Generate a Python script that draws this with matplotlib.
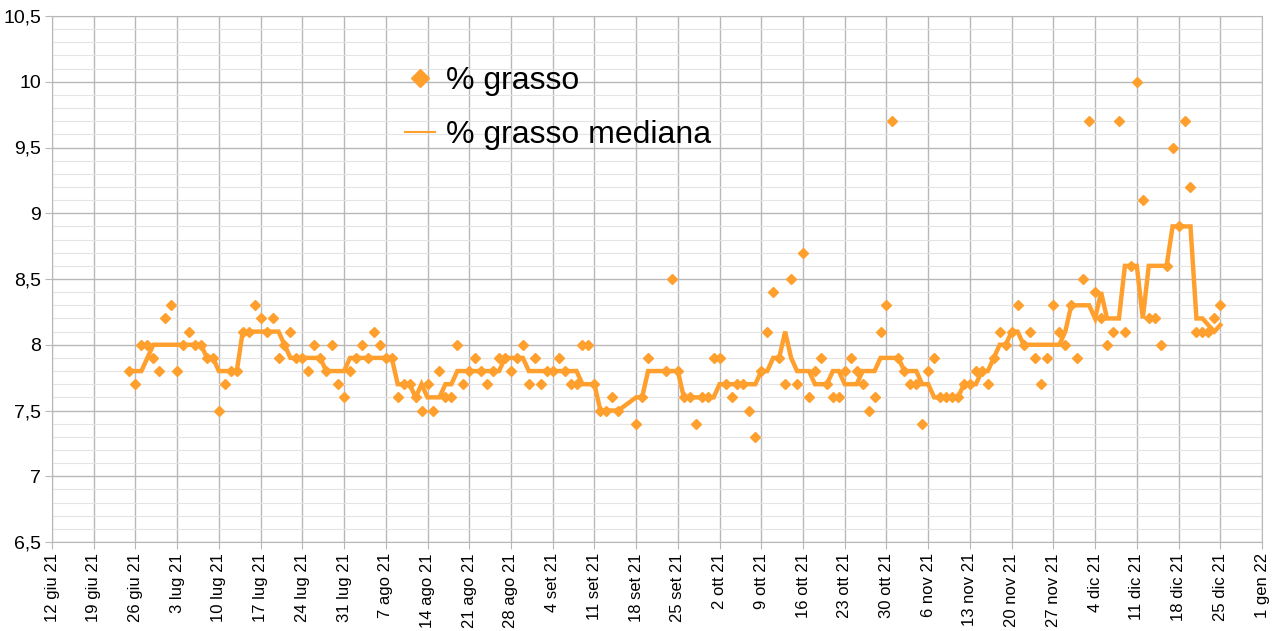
import matplotlib
matplotlib.use("Agg")
import matplotlib.pyplot as plt
from matplotlib.lines import Line2D
import numpy as np
import pandas as pd

# % grasso, one value per day from 25 giu 2021 to 25 dic 2021 (None = no measurement)
giugno = [7.8, 7.7, 8.0, 8.0, 7.9, 7.8]  # 25-30
luglio = [8.2, 8.3, 7.8, 8.0, 8.1, 8.0, 8.0, 7.9, 7.9, 7.5, 7.7, 7.8, 7.8, 8.1, 8.1, 8.3,
          8.2, 8.1, 8.2, 7.9, 8.0, 8.1, 7.9, 7.9, 7.8, 8.0, 7.9, 7.8, 8.0, 7.7, 7.6]
agosto = [7.8, 7.9, 8.0, 7.9, 8.1, 8.0, 7.9, 7.9, 7.6, 7.7, 7.7, 7.6, 7.5, 7.7, 7.5, 7.8,
          7.6, 7.6, 8.0, 7.7, 7.8, 7.9, 7.8, 7.7, 7.8, 7.9, 7.9, 7.8, 7.9, 8.0, 7.7]
settembre = [7.9, 7.7, 7.8, 7.8, 7.9, 7.8, 7.7, 7.7, 8.0, 8.0, 7.7, 7.5, 7.5, 7.6, 7.5, None,
             None, 7.4, 7.6, 7.9, None, None, 7.8, 8.5, 7.8, 7.6, 7.6, 7.4, 7.6, 7.6]
ottobre = [7.9, 7.9, 7.7, 7.6, 7.7, 7.7, 7.5, 7.3, 7.8, 8.1, 8.4, 7.9, 7.7, 8.5, 7.7, 8.7,
           7.6, 7.8, 7.9, 7.7, 7.6, 7.6, 7.8, 7.9, 7.8, 7.7, 7.5, 7.6, 8.1, 8.3, 9.7]
novembre = [7.9, 7.8, 7.7, 7.7, 7.4, 7.8, 7.9, 7.6, 7.6, 7.6, 7.6, 7.7, 7.7, 7.8, 7.8, 7.7,
            7.9, 8.1, 8.0, 8.1, 8.3, 8.0, 8.1, 7.9, 7.7, 7.9, 8.3, 8.1, 8.0, 8.3]
dicembre = [7.9, 8.5, 9.7, 8.4, 8.2, 8.0, 8.1, 9.7, 8.1, 8.6, 10.0, 9.1, 8.2, 8.2, 8.0, 8.6,
            9.5, 8.9, 9.7, 9.2, 8.1, 8.1, 8.1, 8.2, 8.3]

# % grasso mediana, same days
med_giugno = [7.8, 7.8, 7.8, 7.9, 8.0, 8.0]
med_luglio = [8.0] * 7 + [7.9] * 2 + [7.8] * 4 + [8.1] * 7 + [8.0] + [7.9] * 6 + [7.8] * 4
med_agosto = [7.9] * 8 + [7.7] * 3 + [7.6, 7.7] + [7.6] * 3 + [7.7] * 2 + [7.8] * 8 + [7.9] * 4 + [7.8]
med_settembre = ([7.8] * 8 + [7.7] * 3 + [7.5] * 4 + [None, None, 7.6, 7.6, 7.8, None, None]
                 + [7.8] * 3 + [7.6] * 5)
med_ottobre = ([7.6] + [7.7] * 7 + [7.8, 7.8, 7.9, 7.9, 8.1, 7.9] + [7.8] * 3 + [7.7] * 3
               + [7.8] * 2 + [7.7] * 3 + [7.8] * 3 + [7.9] * 3)
med_novembre = ([7.9] + [7.8] * 3 + [7.7] * 2 + [7.6] * 5 + [7.7] * 3 + [7.8] * 2 + [7.9]
                + [8.0] * 2 + [8.1] * 2 + [8.0] * 7 + [8.1, 8.3])
med_dicembre = ([8.3] * 3 + [8.2, 8.4] + [8.2] * 3 + [8.6] * 3 + [8.2] + [8.6] * 4 + [8.9] * 4
                + [8.2, 8.2, 8.15, 8.1, 8.15])

tick_labels = ["12 giu 21", "19 giu 21", "26 giu 21", "3 lug 21", "10 lug 21", "17 lug 21",
               "24 lug 21", "31 lug 21", "7 ago 21", "14 ago 21", "21 ago 21", "28 ago 21",
               "4 set 21", "11 set 21", "18 set 21", "25 set 21", "2 ott 21", "9 ott 21",
               "16 ott 21", "23 ott 21", "30 ott 21", "6 nov 21", "13 nov 21", "20 nov 21",
               "27 nov 21", "4 dic 21", "11 dic 21", "18 dic 21", "25 dic 21", "1 gen 22"]
y_labels = ["6,5", "7", "7,5", "8", "8,5", "9", "9,5", "10", "10,5"]

grasso = giugno + luglio + agosto + settembre + ottobre + novembre + dicembre
mediana = (med_giugno + med_luglio + med_agosto + med_settembre + med_ottobre
           + med_novembre + med_dicembre)
days = pd.date_range("2021-06-25", "2021-12-25", freq="D")
df = pd.DataFrame({"giorno": days, "grasso": grasso, "mediana": mediana}).dropna()

plt.rcParams["font.family"] = ["Liberation Sans", "DejaVu Sans"]
orange = "#ffa02e"
grid_major = "#b8b8b8"
grid_minor = "#e4e4e4"

fig = plt.figure(figsize=(12.77, 6.31), dpi=100)
ax = fig.add_axes([52 / 1277, 1 - 542 / 631, (1262 - 52) / 1277, (542 - 16) / 631])

ax.plot(df["giorno"], df["mediana"], color=orange, lw=3.2, zorder=3, solid_joinstyle="miter")
ax.plot(df["giorno"], df["grasso"], ls="none", marker="D", ms=5.4, color=orange, zorder=4)

ticks = pd.date_range("2021-06-12", periods=len(tick_labels), freq="7D")
ax.set_xlim(ticks[0], ticks[-1])
ax.set_xticks(ticks)
ax.set_xticklabels(tick_labels, rotation=90, fontsize=12)

ax.set_ylim(6.5, 10.5)
ax.set_yticks(np.arange(6.5, 10.51, 0.5))
ax.set_yticklabels(y_labels, fontsize=14)
ax.set_yticks(np.arange(6.5, 10.51, 0.1), minor=True)

ax.grid(which="major", color=grid_major, lw=1, zorder=1)
ax.grid(which="minor", axis="y", color=grid_minor, lw=0.8, zorder=0)
ax.tick_params(which="major", direction="out", length=5, color=grid_major, pad=3)
ax.tick_params(which="minor", length=0)
for s in ax.spines.values():
    s.set_color(grid_major)
ax.set_axisbelow(True)

handles = [
    Line2D([], [], ls="none", marker="D", ms=9.5, color=orange),
    Line2D([], [], color=orange, lw=1.5),
]
ax.legend(handles, ["% grasso", "% grasso mediana"], loc="upper left",
          bbox_to_anchor=(405 / 1277, 1 - 66 / 631), bbox_transform=fig.transFigure,
          frameon=False, fontsize=23, handlelength=0.95, handletextpad=0.32,
          labelspacing=0.75, borderpad=0, borderaxespad=0)

fig.savefig("out.png", dpi=100)
